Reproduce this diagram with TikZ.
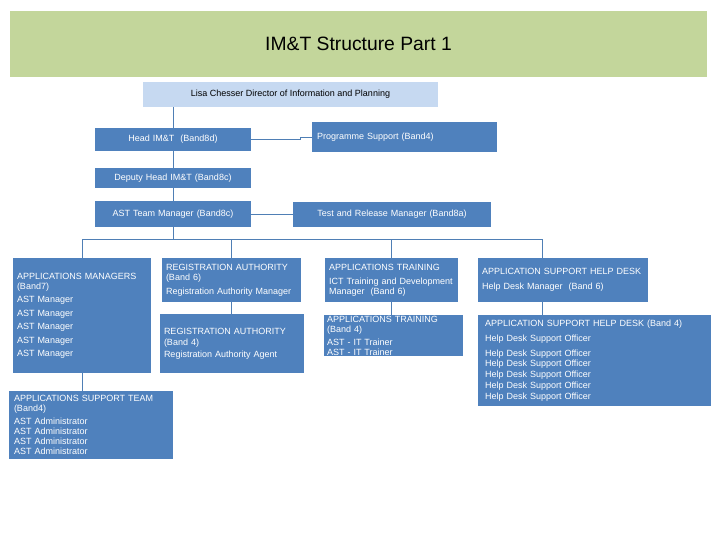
\documentclass[tikz,border=0pt]{standalone}
\usepackage{fontspec}
\setmainfont{Liberation Sans}
\definecolor{boxblue}{HTML}{4F81BD}
\definecolor{titlegreen}{HTML}{C3D69B}
\definecolor{lightblue}{HTML}{C6D9F1}
\definecolor{linecol}{HTML}{4F7FB5}
\begin{document}
\begin{tikzpicture}[x=1pt,y=-1pt,
  every node/.style={inner sep=0pt, outer sep=0pt},
  box/.style={fill=boxblue, text=white, anchor=north west, inner xsep=4pt,
    font=\fontsize{9}{10}\selectfont},
  lbox/.style={box, align=left},
  cbox/.style={box, align=center},
  conn/.style={draw=linecol, line width=0.7pt}]
\useasboundingbox[fill=white] (0,0) rectangle (720,540);

\node[fill=titlegreen, anchor=north west, minimum width=697pt, minimum height=66pt,
  font=\fontsize{19.3}{22}\selectfont] (title) at (10,11) {IM\&T Structure Part 1};
\node[fill=lightblue, anchor=north west, minimum width=295pt, minimum height=25pt,
  font=\fontsize{9}{10}\selectfont] (lisa) at (143,82) {Lisa Chesser Director of Information and Planning};

\node[cbox, text width=148pt, minimum height=23pt] (head) at (95,128) {Head IM\&T\ \ (Band8d)};
\node[lbox, inner xsep=5pt, text width=175pt, minimum height=30pt] (prog) at (312,122) {Programme Support (Band4)};
\node[cbox, text width=148pt, minimum height=20pt] (deputy) at (95,168) {Deputy Head IM\&T (Band8c)};
\node[cbox, text width=148pt, minimum height=26pt] (astm) at (95,201) {AST Team Manager (Band8c)};
\node[cbox, text width=190pt, minimum height=25pt] (test) at (293,202) {Test and Release Manager (Band8a)};

\node[lbox, text width=130pt, minimum height=115pt] (appm) at (13,258)
  {APPLICATIONS MANAGERS\\(Band7)\\[3pt]AST Manager\\[4pt]AST Manager\\[3pt]AST Manager\\[4pt]AST Manager\\[3pt]AST Manager};
\node[lbox, text width=131pt, minimum height=44pt] (ra6) at (162,258)
  {REGISTRATION AUTHORITY\\(Band 6)\\[4pt]Registration Authority Manager};
\node[lbox, text width=136pt, minimum height=59pt] (ra4) at (160,314)
  {REGISTRATION AUTHORITY\\[1pt](Band 4)\\[2pt]Registration Authority Agent};
\node[lbox, text width=125pt, minimum height=44pt] (at6) at (325,258)
  {APPLICATIONS TRAINING\\[4pt]ICT Training and Development\\Manager\ \ (Band 6)};
\node[lbox, inner xsep=3pt, text width=133pt, minimum height=41pt] (at4) at (324,315)
  {APPLICATIONS TRAINING\\(Band 4)\\[3pt]AST - IT Trainer\\AST - IT Trainer};
\node[lbox, inner xsep=4pt, text width=162pt, minimum height=44pt] (hd6) at (478,258)
  {APPLICATION SUPPORT HELP DESK\\[5pt]Help Desk Manager\ \ (Band 6)};
\node[lbox, inner xsep=7pt, text width=219pt, minimum height=91pt] (hd4) at (478,315)
  {APPLICATION SUPPORT HELP DESK (Band 4)\\[5pt]Help Desk Support Officer\\[5pt]Help Desk Support Officer\\Help Desk Support Officer\\[0.8pt]Help Desk Support Officer\\[0.8pt]Help Desk Support Officer\\[0.8pt]Help Desk Support Officer};
\node[lbox, inner xsep=5pt, text width=154pt, minimum height=68pt] (ast4) at (9,391)
  {APPLICATIONS SUPPORT TEAM\\(Band4)\\[3pt]AST Administrator\\AST Administrator\\AST Administrator\\AST Administrator};

\coordinate (bus) at (0,239);
\coordinate (hdx) at ([xshift=-21pt]hd6.north);

\draw[conn] (lisa.south -| head.north) -- (head.north);
\draw[conn] (head.east) -- ([xshift=-12pt]prog.west |- head.east) |- (prog.west);
\draw[conn] (head.south) -- (deputy.north);
\draw[conn] (deputy.south) -- (astm.north);
\draw[conn] (astm.east) -- (astm.east -| test.west);
\draw[conn] (astm.south) -- (astm.south |- bus);
\draw[conn] (appm.north) -- (appm.north |- bus) -- (bus -| hdx) -- (hdx);
\draw[conn] (ra6.north) -- (ra6.north |- bus);
\draw[conn] (at6.north) -- (at6.north |- bus);
\draw[conn] (ra6.south) -- (ra6.south |- ra4.north);
\draw[conn] (at6.south) -- (at6.south |- at4.north);
\draw[conn] (hdx |- hd6.south) -- (hdx |- hd4.north);
\draw[conn] (appm.south) -- (appm.south |- ast4.north);
\end{tikzpicture}
\end{document}
